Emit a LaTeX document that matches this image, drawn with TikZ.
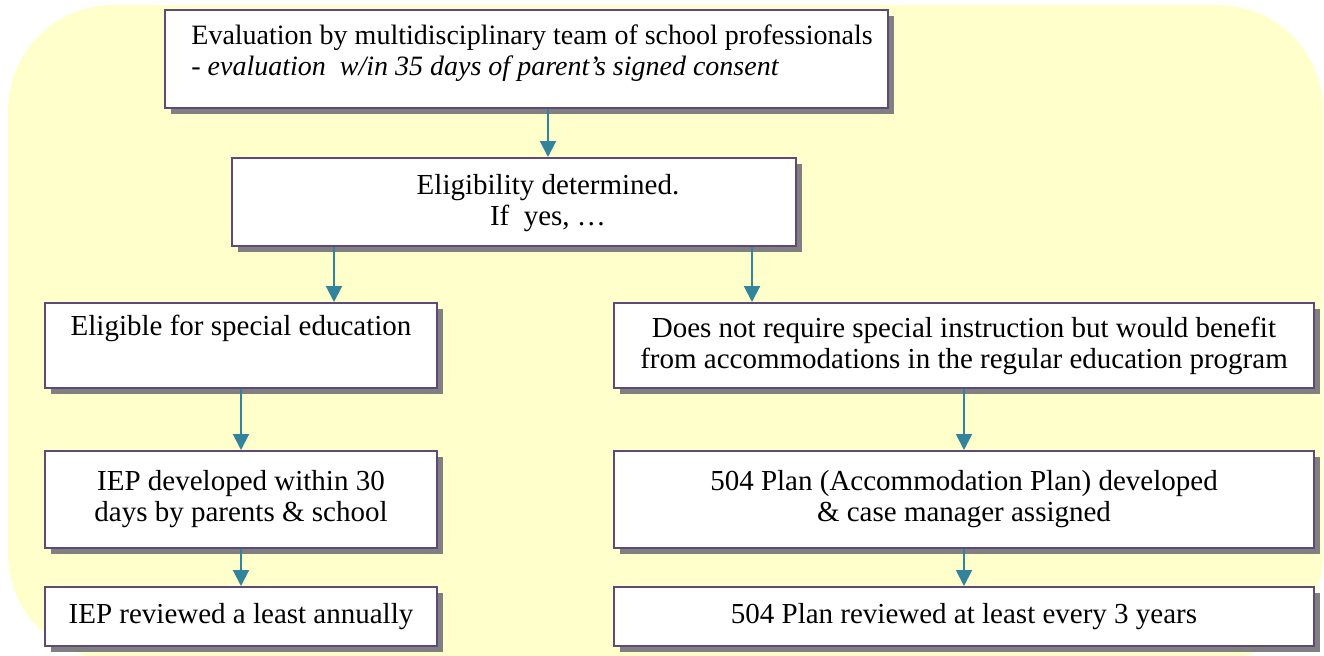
\documentclass[tikz,border=0pt]{standalone}
\usepackage{fontspec}
\setmainfont{Liberation Serif}
\usepackage{xcolor}
\usepackage{tikz}
\usetikzlibrary{arrows.meta}
\usetikzlibrary{shadows}
\usetikzlibrary{calc}

\definecolor{bgyellow}{HTML}{FFFFCC}
\definecolor{boxline}{HTML}{5F497A}
\definecolor{boxshadow}{HTML}{808080}
\definecolor{flowteal}{HTML}{31849B}

\begin{document}
\begin{tikzpicture}[x=0.5pt,y=-0.5pt,
  box/.style={draw=boxline, line width=1pt, fill=white, inner sep=0pt,
    font=\fontsize{14.5}{15.5}\selectfont, align=center,
    drop shadow={shadow xshift=3pt, shadow yshift=-3pt, fill=boxshadow, opacity=1}},
  txt/.style={font=\fontsize{14.5}{15.5}\selectfont, align=center, inner sep=0pt},
  flow/.style={color=flowteal, line width=1pt, -{Triangle[width=8pt,length=8pt]}}]
\useasboundingbox (0,0) rectangle (1324,655);
\fill[bgyellow, rounded corners=52.5pt] (8,5) rectangle (1323,659);

\node[box, minimum width=361.5pt, minimum height=49pt] (eval) at (526.5,59) {};
\node[txt, font=\fontsize{14}{15.5}\selectfont, align=left, anchor=west] (evaltxt) at ([xshift=13.5pt,yshift=2.75pt]eval.west)
  {Evaluation by multidisciplinary team of school professionals\\- \textit{evaluation\ \ w/in 35 days of parent's signed consent}};
\node[box, minimum width=282pt, minimum height=44pt] (elig) at (514,202) {};
\node[txt] (eligtxt) at ([xshift=17pt,yshift=-0.5pt]elig.center) {Eligibility determined.\\If\ \ yes, …};

\node[box, minimum width=196pt, minimum height=42.5pt] (sped) at (241,345.5) {Eligible for special education\\ \strut};
\node[box, minimum width=350pt, minimum height=42.5pt] (accom) at (964,345.5)
  {Does not require special instruction but would benefit\\from accommodations in the regular education program};
\node[box, minimum width=196pt, minimum height=48.5pt] (iep) at (241,499.5) {IEP developed within 30\\days by parents \& school};
\node[box, minimum width=350pt, minimum height=48.5pt] (plan) at (964,499.5) {504 Plan (Accommodation Plan) developed\\\& case manager assigned};
\node[box, minimum width=196pt, minimum height=29.5pt] (iepcheck) at (241,616.5) {IEP reviewed a least annually};
\node[box, minimum width=350pt, minimum height=29.5pt] (plancheck) at (964,616.5) {504 Plan reviewed at least every 3 years};

\coordinate (e1) at ([xshift=10.75pt]eval.south);
\coordinate (e2) at ([xshift=-90pt]elig.south);
\coordinate (e3) at ([xshift=119pt]elig.south);
\draw[flow] (e1) -- (e1 |- elig.north);
\draw[flow] (e2) -- (e2 |- sped.north);
\draw[flow] (e3) -- (e3 |- accom.north);
\draw[flow] (sped) -- (iep);
\draw[flow] (iep) -- (iepcheck);
\draw[flow] (accom) -- (plan);
\draw[flow] (plan) -- (plancheck);
\end{tikzpicture}
\end{document}
